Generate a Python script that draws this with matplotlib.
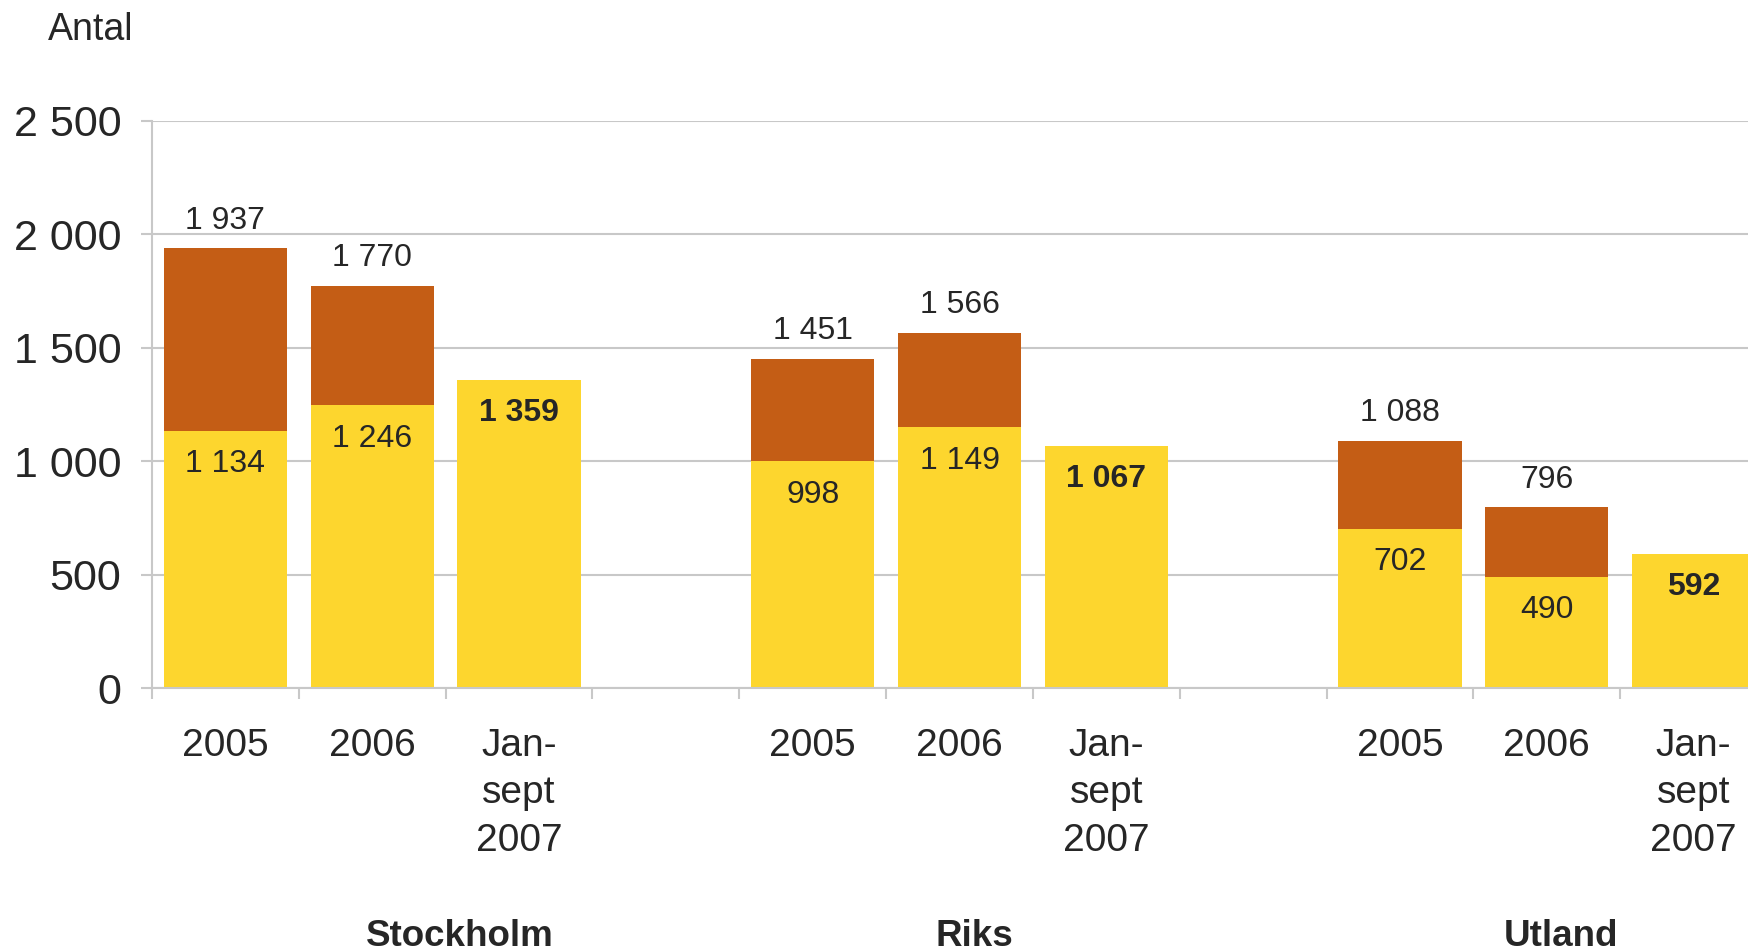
import matplotlib.pyplot as plt
from matplotlib.ticker import FuncFormatter
import matplotlib.transforms as mtransforms

plt.rcParams['font.family'] = ['Liberation Sans', 'DejaVu Sans']

# slot positions: three bars per region with an empty slot between regions
positions = [0, 1, 2, 4, 5, 6, 8, 9, 10]
period_labels = ['2005', '2006', 'Jan-\nsept\n2007'] * 3
regions = ['Stockholm', 'Riks', 'Utland']
region_x = [1.6, 5.1, 9.1]

lower = [1134, 1246, 1359, 998, 1149, 1067, 702, 490, 592]
totals = [1937, 1770, None, 1451, 1566, None, 1088, 796, None]

yellow = '#FDD62E'
brown = '#C45D15'
grid_gray = '#C8C8C8'
text_col = '#262626'


def fmt_space(v, pos=None):
    return f"{int(v):,}".replace(',', ' ')


fig = plt.figure(figsize=(17.49, 9.52), dpi=100)
ax = fig.add_axes([0.0869, 0.2773, 0.9234, 0.5961])

upper = [t - l if t is not None else 0 for t, l in zip(totals, lower)]
ax.bar(positions, lower, width=0.84, color=yellow, zorder=3)
ax.bar(positions, upper, width=0.84, bottom=lower, color=brown, zorder=3)

for x, lo, tot in zip(positions, lower, totals):
    bold = tot is None
    ax.annotate(fmt_space(lo), (x, lo), xytext=(0, -24), textcoords='offset points',
                ha='center', va='center', fontsize=23, color=text_col,
                fontweight='bold' if bold else 'normal', zorder=4)
    if tot is not None:
        ax.annotate(fmt_space(tot), (x, tot), xytext=(0, 20), textcoords='offset points',
                    ha='center', va='center', fontsize=23, color=text_col, zorder=4)

ax.set_xlim(-0.5, 10.5)
ax.set_ylim(0, 2500)
ax.set_yticks(range(0, 2501, 500))
ax.yaxis.set_major_formatter(FuncFormatter(fmt_space))
ax.grid(axis='y', color=grid_gray, linewidth=1.5, zorder=0)

ax.set_xticks(positions, period_labels)
ax.set_xticks([i - 0.5 for i in range(11)], minor=True)
ax.tick_params(axis='x', which='major', length=0, pad=29, labelsize=28, labelcolor=text_col)
ax.tick_params(axis='x', which='minor', length=8, width=1.5, color=grid_gray, direction='out')
ax.tick_params(axis='y', length=8, width=1.5, color=grid_gray, pad=14, labelsize=31,
               labelcolor=text_col)
for lab in ax.get_xticklabels():
    lab.set_linespacing(1.4)

for s in ['top', 'right']:
    ax.spines[s].set_visible(False)
for s in ['left', 'bottom']:
    ax.spines[s].set_color(grid_gray)
    ax.spines[s].set_linewidth(1.5)
ax.spines['bottom'].set_zorder(5)

trans = mtransforms.blended_transform_factory(ax.transData, fig.transFigure)
for name, x in zip(regions, region_x):
    fig.text(x, 0.016, name, transform=trans, ha='center', va='center',
             fontsize=26.5, fontweight='bold', color=text_col)

fig.text(0.0274, 0.968, 'Antal', ha='left', va='center', fontsize=27, color=text_col)

fig.savefig('out.png', dpi=100)
